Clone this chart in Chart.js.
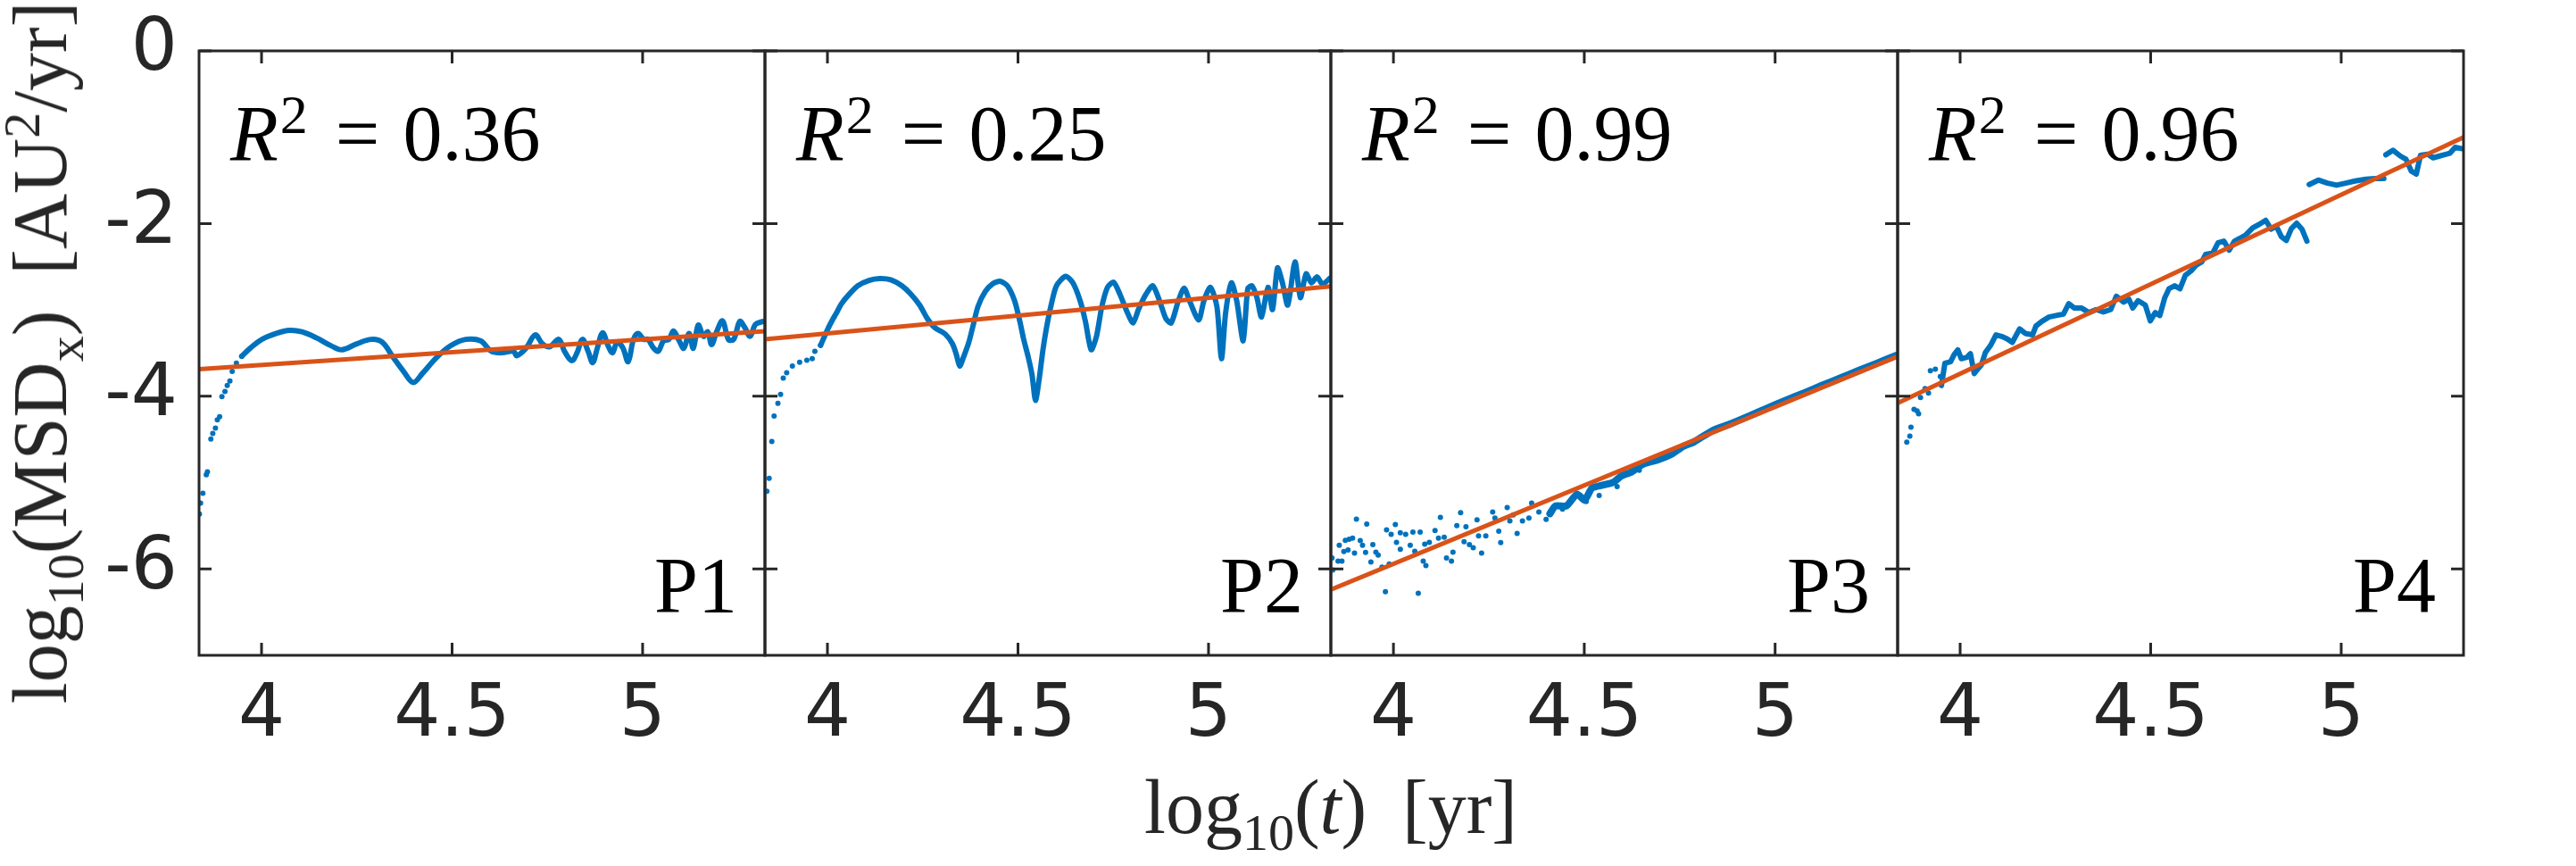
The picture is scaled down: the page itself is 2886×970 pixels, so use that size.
<!DOCTYPE html>
<html>
<head>
<meta charset="utf-8">
<script src="https://cdn.jsdelivr.net/npm/chart.js@4.4.1/dist/chart.umd.min.js"></script>
<style>
  body { margin: 0; background: #fff; }
  #wrap { position: relative; width: 2886px; height: 970px; overflow: hidden; background: #fff; }
  #wrap canvas { position: absolute; left: 0; top: 0; }
  .txt { position: absolute; font-family: 'Liberation Serif', serif; white-space: nowrap; }
  .note { font-size: 88px; line-height: 88px; color: #000; }
  .note .sup { font-size: 62px; position: relative; top: -30px; margin-left: 2px; }
  .note .eq { margin: 0 26px 0 31px; }
  .title { font-size: 86px; line-height: 86px; color: #262626; }
  .title .sub { font-size: 58px; position: relative; top: 19px; }
  .title .sup { font-size: 58px; position: relative; top: -30px; }
  .title .gap { margin-left: 40px; }
</style>
</head>
<body>
<div id="wrap">
  <canvas id="c0" width="2886" height="970"></canvas>
  <canvas id="c1" width="2886" height="970"></canvas>
  <canvas id="c2" width="2886" height="970"></canvas>
  <canvas id="c3" width="2886" height="970"></canvas>
  <div class="txt title" id="xtitle" style="left:1491px; top:861px; transform:translateX(-50%);">log<span class="sub">10</span>(<i>t</i>)<span class="gap">[yr]</span></div>
  <div class="txt title" id="ytitle" style="left:50px; top:395px; transform:translate(-50%,-50%) rotate(-90deg);">log<span class="sub">10</span>(MSD<span class="sub">x</span>)<span class="gap">[AU<span class="sup">2</span>/yr]</span></div>
</div>
<script>
// valores: [log10(t), log10(MSDx)]
const xTicks = [4, 4.5, 5];
const xTickLabels = ['4', '4.5', '5'];
const yTicks = [-6, -4, -2, 0];
const yTickLabels = ['-6', '-4', '-2', '0'];
const panelNames = ['P1', 'P2', 'P3', 'P4'];
const r2Values = ['0.36', '0.25', '0.99', '0.96'];

// retas de ajuste: valor no inicio e no fim do eixo x
const fitStartY = [-3.687, -3.34, -6.24, -4.08];
const fitEndY = [-3.247, -2.727, -3.54, -1.0];

// P1
const p1Dots = [
  [3.837, -5.365], [3.840, -5.237], [3.846, -5.123], [3.855, -4.91], [3.858, -4.875],
  [3.867, -4.496], [3.872, -4.43], [3.879, -4.368], [3.884, -4.272], [3.890, -4.237],
  [3.896, -4.003], [3.904, -3.944], [3.910, -3.875], [3.917, -3.823], [3.923, -3.713],
  [3.934, -3.616], [3.948, -3.537]
];
const p1Curve = [
  [3.948, -3.537], [3.972, -3.437], [4.001, -3.341], [4.039, -3.272], [4.073, -3.237],
  [4.106, -3.254], [4.144, -3.323], [4.183, -3.416], [4.211, -3.461], [4.250, -3.392],
  [4.288, -3.341], [4.317, -3.375], [4.345, -3.547], [4.374, -3.72], [4.398, -3.84],
  [4.422, -3.737], [4.460, -3.547], [4.498, -3.41], [4.536, -3.341], [4.575, -3.358],
  [4.603, -3.479], [4.632, -3.496], [4.661, -3.479], [4.670, -3.53], [4.694, -3.444],
  [4.718, -3.289], [4.737, -3.392], [4.756, -3.427], [4.780, -3.341], [4.795, -3.479],
  [4.814, -3.589], [4.828, -3.496], [4.842, -3.341], [4.857, -3.479], [4.869, -3.61],
  [4.881, -3.444], [4.895, -3.265], [4.909, -3.41], [4.921, -3.496], [4.933, -3.375],
  [4.948, -3.437], [4.962, -3.599], [4.976, -3.341], [4.988, -3.272], [5.003, -3.341],
  [5.014, -3.341], [5.029, -3.444], [5.041, -3.479], [5.055, -3.358], [5.069, -3.341],
  [5.081, -3.244], [5.096, -3.358], [5.108, -3.444], [5.122, -3.272], [5.133, -3.444],
  [5.146, -3.175], [5.160, -3.306], [5.171, -3.254], [5.181, -3.403], [5.194, -3.254],
  [5.210, -3.127], [5.225, -3.341], [5.239, -3.341], [5.255, -3.134], [5.268, -3.203],
  [5.282, -3.306], [5.296, -3.168], [5.315, -3.134]
];

// P2
const p2Dots = [
  [3.841, -5.10], [3.847, -4.951], [3.854, -4.524], [3.860, -4.23], [3.870, -4.082],
  [3.877, -3.979], [3.884, -3.789], [3.893, -3.727], [3.908, -3.651], [3.927, -3.606],
  [3.946, -3.582], [3.960, -3.565], [3.967, -3.479], [3.982, -3.41]
];
const p2Curve = [
  [3.982, -3.41], [4.001, -3.22], [4.013, -3.117], [4.022, -3.048], [4.037, -2.927],
  [4.056, -2.824], [4.080, -2.72], [4.109, -2.658], [4.137, -2.637], [4.166, -2.651],
  [4.195, -2.72], [4.219, -2.817], [4.242, -2.944], [4.262, -3.099], [4.281, -3.203],
  [4.309, -3.279], [4.328, -3.392], [4.338, -3.513], [4.347, -3.651], [4.357, -3.548],
  [4.371, -3.375], [4.381, -3.203], [4.395, -2.961], [4.414, -2.789], [4.434, -2.696],
  [4.453, -2.668], [4.472, -2.72], [4.491, -2.893], [4.505, -3.134], [4.515, -3.341],
  [4.527, -3.548], [4.537, -3.755], [4.546, -4.048], [4.556, -3.789], [4.565, -3.479],
  [4.575, -3.203], [4.587, -2.944], [4.601, -2.72], [4.625, -2.61], [4.644, -2.686],
  [4.663, -2.893], [4.677, -3.134], [4.692, -3.461], [4.706, -3.306], [4.720, -2.961],
  [4.735, -2.737], [4.751, -2.679], [4.768, -2.824], [4.787, -3.03], [4.802, -3.151],
  [4.816, -2.996], [4.835, -2.824], [4.854, -2.72], [4.874, -2.927], [4.888, -3.099],
  [4.902, -3.151], [4.921, -2.893], [4.936, -2.748], [4.950, -2.893], [4.974, -3.117],
  [4.988, -2.893], [5.005, -2.737], [5.022, -2.961], [5.034, -3.565], [5.045, -3.03],
  [5.060, -2.686], [5.074, -2.893], [5.091, -3.358], [5.103, -2.755], [5.114, -2.72],
  [5.127, -2.858], [5.139, -3.082], [5.156, -2.737], [5.168, -2.996], [5.181, -2.513],
  [5.194, -2.686], [5.208, -2.944], [5.227, -2.444], [5.241, -2.858], [5.256, -2.582],
  [5.270, -2.686], [5.285, -2.617], [5.299, -2.703], [5.318, -2.634]
];

// P3
const p3Dots = [
  [3.841, -6.012], [3.839, -5.874], [3.855, -5.909], [3.865, -5.909], [3.858, -5.726],
  [3.870, -5.799], [3.874, -5.668], [3.884, -5.657], [3.893, -5.643], [3.881, -5.781],
  [3.898, -5.816], [3.903, -5.423], [3.913, -5.671], [3.919, -5.726], [3.927, -5.809],
  [3.930, -5.481], [3.941, -5.919], [3.946, -5.719], [3.954, -5.806], [3.960, -5.84],
  [3.970, -5.978], [3.979, -6.264], [3.982, -5.547], [3.989, -5.943], [3.994, -5.599],
  [4.005, -5.485], [4.008, -5.692], [4.018, -5.581], [4.018, -5.771], [4.032, -5.599],
  [4.044, -5.726], [4.051, -5.574], [4.056, -5.795], [4.065, -6.281], [4.070, -5.574],
  [4.078, -5.909], [4.085, -5.961], [4.082, -5.712], [4.094, -5.692], [4.109, -5.554],
  [4.123, -5.402], [4.118, -5.643], [4.133, -5.633], [4.139, -5.874], [4.152, -5.909],
  [4.156, -5.806], [4.166, -5.499], [4.176, -5.347], [4.185, -5.685], [4.190, -5.512],
  [4.199, -5.719], [4.209, -5.754], [4.219, -5.43], [4.223, -5.616], [4.231, -5.816],
  [4.242, -5.616], [4.260, -5.34], [4.266, -5.409], [4.276, -5.564], [4.281, -5.695],
  [4.298, -5.288], [4.305, -5.443], [4.314, -5.374], [4.324, -5.588], [4.338, -5.443],
  [4.355, -5.409], [4.362, -5.237], [4.381, -5.34], [4.400, -5.426], [4.443, -5.306],
  [4.505, -5.219], [4.539, -5.15], [4.586, -5.047], [4.644, -4.857]
];
const p3Curve = [
  [4.410, -5.36], [4.424, -5.271], [4.453, -5.271], [4.481, -5.133], [4.501, -5.202],
  [4.520, -5.064], [4.548, -5.03], [4.577, -4.995], [4.596, -4.926], [4.625, -4.874],
  [4.653, -4.788], [4.692, -4.737], [4.730, -4.668], [4.759, -4.58], [4.787, -4.53],
  [4.835, -4.40], [4.883, -4.32], [4.931, -4.23], [4.978, -4.14], [5.026, -4.05],
  [5.074, -3.965], [5.122, -3.875], [5.170, -3.79], [5.217, -3.705], [5.265, -3.62],
  [5.318, -3.525]
];

// P4
const p4Dots = [
  [3.860, -4.531], [3.868, -4.462], [3.871, -4.358], [3.879, -4.151], [3.887, -4.169],
  [3.891, -4.203], [3.896, -4.014], [3.908, -3.910], [3.917, -3.962], [3.922, -3.703],
  [3.935, -3.686], [3.948, -3.772]
];
const p4Curve = [
  [3.951, -3.876], [3.960, -3.617], [3.975, -3.600],
  [3.984, -3.52], [3.994, -3.462], [4.003, -3.565], [4.018, -3.548], [4.027, -3.507],
  [4.037, -3.738], [4.046, -3.686], [4.056, -3.634], [4.066, -3.496], [4.080, -3.41],
  [4.094, -3.289], [4.109, -3.307], [4.123, -3.334], [4.137, -3.376], [4.156, -3.22],
  [4.171, -3.272], [4.190, -3.289], [4.199, -3.186], [4.214, -3.134], [4.233, -3.083],
  [4.252, -3.065], [4.271, -3.048], [4.285, -2.927], [4.300, -2.979], [4.319, -2.979],
  [4.338, -3.031], [4.357, -2.996], [4.376, -3.024], [4.395, -2.996], [4.410, -2.841],
  [4.429, -2.910], [4.443, -2.876], [4.453, -2.979], [4.467, -2.893], [4.486, -2.945],
  [4.499, -3.127], [4.512, -3.031], [4.524, -3.065], [4.537, -2.858], [4.548, -2.755],
  [4.563, -2.72], [4.577, -2.755], [4.591, -2.600], [4.606, -2.548], [4.620, -2.479],
  [4.634, -2.445], [4.644, -2.358], [4.663, -2.341], [4.677, -2.221], [4.692, -2.203],
  [4.706, -2.307], [4.720, -2.203], [4.735, -2.169], [4.749, -2.134], [4.768, -2.048],
  [4.783, -2.014], [4.802, -1.962], [4.816, -2.065], [4.830, -2.031], [4.843, -2.152],
  [4.856, -2.196], [4.869, -2.058], [4.883, -1.996], [4.897, -2.065], [4.910, -2.203],
  [4.913, null],
  [4.916, -1.548], [4.940, -1.496], [4.964, -1.531], [4.988, -1.555], [5.012, -1.531],
  [5.036, -1.507], [5.065, -1.486], [5.088, -1.479], [5.112, -1.479],
  [5.115, null],
  [5.117, -1.203], [5.136, -1.151], [5.156, -1.22], [5.170, -1.255], [5.184, -1.393],
  [5.197, -1.427], [5.208, -1.21], [5.227, -1.196], [5.241, -1.238], [5.256, -1.22],
  [5.270, -1.203], [5.285, -1.186], [5.299, -1.117], [5.318, -1.134]
];

const panelDots = [p1Dots, p2Dots, p3Dots, p4Dots];
const panelCurves = [p1Curve, p2Curve, p3Curve, p4Curve];

// geometria
const xMin = 3.836, xMax = 5.321;
const yMin = -7, yMax = 0;
const panelLeft = [223, 857, 1491, 2126];
const panelRight = [857, 1491, 2126, 2760];
const plotTop = 57, plotBottom = 734;
const W = 2886, H = 970;
const yAxisW = 200, xAxisH = 130;

const blue = '#0072BD';
const orange = '#D95319';
const axisColor = '#262626';
const tickLen = 14;
const tickFont = { family: 'DejaVu Sans', size: 82 };

const curveWidth = [6, 6, 8, 6];
const curveTension = [0.35, 0.25, 0.2, 0];

const toPoints = (arr) => arr.map((p) => ({ x: p[0], y: p[1] }));

// caixa e ticks para dentro, estilo MATLAB
const framePlugin = {
  id: 'frame',
  afterDraw(chart) {
    const { ctx, chartArea: a } = chart;
    const sx = chart.scales.x, sy = chart.scales.y;
    ctx.save();
    ctx.strokeStyle = axisColor;
    ctx.lineWidth = 3;
    ctx.beginPath();
    sx.ticks.forEach((t) => {
      const px = sx.getPixelForValue(t.value);
      ctx.moveTo(px, a.bottom); ctx.lineTo(px, a.bottom - tickLen);
      ctx.moveTo(px, a.top); ctx.lineTo(px, a.top + tickLen);
    });
    sy.ticks.forEach((t) => {
      const py = sy.getPixelForValue(t.value);
      ctx.moveTo(a.left, py); ctx.lineTo(a.left + tickLen, py);
      ctx.moveTo(a.right, py); ctx.lineTo(a.right - tickLen, py);
    });
    ctx.stroke();
    ctx.strokeRect(a.left, a.top, a.right - a.left, a.bottom - a.top);
    ctx.restore();
  },
};

const makePanel = (i) => {
  const datasets = [
    {
      data: [{ x: xMin, y: fitStartY[i] }, { x: xMax, y: fitEndY[i] }],
      showLine: true,
      borderColor: orange,
      borderWidth: 5,
      pointRadius: 0,
      order: 0,
    },
    {
      data: toPoints(panelDots[i]),
      backgroundColor: blue,
      borderWidth: 0,
      pointRadius: 3,
      order: 1,
    },
    {
      data: toPoints(panelCurves[i]),
      showLine: true,
      spanGaps: false,
      borderColor: blue,
      borderWidth: curveWidth[i],
      borderJoinStyle: 'round',
      borderCapStyle: 'round',
      tension: curveTension[i],
      pointRadius: 0,
      order: 1,
    },
  ];

  new Chart(document.getElementById('c' + i).getContext('2d'), {
    type: 'scatter',
    data: { datasets },
    options: {
      responsive: false,
      animation: false,
      devicePixelRatio: 1,
      layout: {
        padding: {
          left: panelLeft[i] - yAxisW,
          right: W - panelRight[i],
          top: plotTop,
          bottom: H - plotBottom - xAxisH,
        },
      },
      plugins: { legend: { display: false }, tooltip: { enabled: false } },
      scales: {
        x: {
          type: 'linear',
          min: xMin,
          max: xMax,
          afterBuildTicks: (s) => { s.ticks = xTicks.map((v) => ({ value: v })); },
          afterFit: (s) => { s.height = xAxisH; s.paddingLeft = 0; s.paddingRight = 0; },
          grid: { display: false, drawTicks: false },
          border: { display: false },
          ticks: {
            autoSkip: false,
            maxRotation: 0,
            padding: 20,
            color: axisColor,
            font: tickFont,
            callback: (v, idx) => xTickLabels[idx],
          },
        },
        y: {
          type: 'linear',
          min: yMin,
          max: yMax,
          afterBuildTicks: (s) => { s.ticks = yTicks.map((v) => ({ value: v })); },
          afterFit: (s) => { s.width = yAxisW; s.paddingTop = 0; s.paddingBottom = 0; },
          grid: { display: false, drawTicks: false },
          border: { display: false },
          ticks: {
            display: i === 0,
            padding: 24,
            color: axisColor,
            font: tickFont,
            callback: (v, idx) => yTickLabels[idx],
          },
        },
      },
    },
    plugins: [framePlugin],
  });
};

// textos dentro de cada painel
const wrap = document.getElementById('wrap');
panelNames.forEach((name, i) => {
  const r2 = document.createElement('div');
  r2.className = 'txt note';
  r2.style.left = (panelLeft[i] + 35) + 'px';
  r2.style.top = '106px';
  r2.innerHTML = '<i>R</i><span class="sup">2</span><span class="eq">=</span>' + r2Values[i];
  wrap.appendChild(r2);

  const lab = document.createElement('div');
  lab.className = 'txt note';
  lab.style.left = (panelRight[i] - 31 - 300) + 'px';
  lab.style.width = '300px';
  lab.style.textAlign = 'right';
  lab.style.top = '612px';
  lab.textContent = name;
  wrap.appendChild(lab);
});

for (let i = 0; i < 4; i++) makePanel(i);
</script>
</body>
</html>
